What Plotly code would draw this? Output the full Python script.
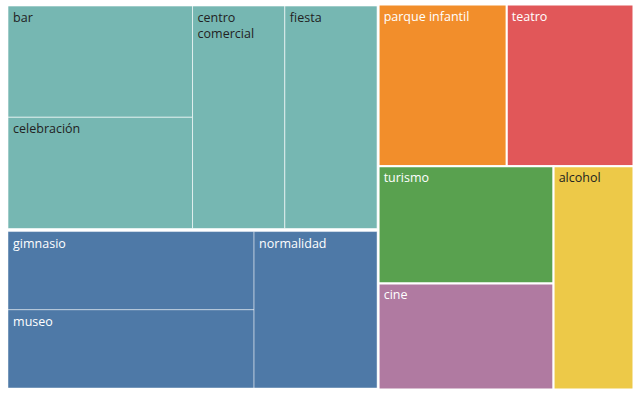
import plotly.graph_objects as go

# Data
teal_items = ["bar", "celebración", "centro comercial", "fiesta"]
blue_items = ["gimnasio", "museo", "normalidad"]
single_items = ["parque infantil", "teatro", "turismo", "cine", "alcohol"]
teal_values = [87, 87, 87, 87]
blue_values = [82, 82, 82]
single_values = [86, 85, 85, 77, 74]

TEAL, BLUE = "#76b7b2", "#4e79a7"
single_colors = ["#f28e2b", "#e15759", "#59a14f", "#b07aa1", "#edc948"]
single_text_colors = ["white", "white", "white", "white", "#222222"]

ids, labels, parents, values, colors, tcolors, texts, lw, lc = [], [], [], [], [], [], [], [], []

def add(i, lab, par, val, col, tcol, txt, w, c):
    ids.append(i); labels.append(lab); parents.append(par); values.append(val)
    colors.append(col); tcolors.append(tcol); texts.append(txt); lw.append(w); lc.append(c)

def disp(name):
    pre = "\u2009"
    return pre + name.replace(" ", "<br>" + pre) if name == "centro comercial" else pre + name

add("grp_teal", "grp_teal", "", 0, "white", "white", " ", 0, "white")
for name, v in zip(teal_items, teal_values):
    add(name, name, "grp_teal", v, TEAL, "#222222", disp(name), 1, "rgba(255,255,255,0.6)")
add("grp_blue", "grp_blue", "", 0, "white", "white", " ", 0, "white")
for name, v in zip(blue_items, blue_values):
    add(name, name, "grp_blue", v, BLUE, "white", disp(name), 1, "rgba(255,255,255,0.45)")
for name, v, col, tc in zip(single_items, single_values, single_colors, single_text_colors):
    add(name, name, "", v, col, tc, disp(name), 2, "white")

fig = go.Figure(go.Treemap(
    ids=ids, labels=labels, parents=parents, values=values,
    text=texts, texttemplate="%{text}", textposition="top left",
    textfont=dict(family="Open Sans, Noto Sans, sans-serif", size=12.5, color=tcolors),
    marker=dict(colors=colors, line=dict(width=lw, color=lc),
                pad=dict(t=1.5, l=1.5, r=1.5, b=1.5)),
    tiling=dict(squarifyratio=1.618034, pad=0),
    pathbar=dict(visible=False),
    sort=True,
    hoverinfo="label",
    root=dict(color="white"),
))
fig.update_layout(
    width=640, height=396,
    margin=dict(l=5, r=5, t=3, b=5),
    paper_bgcolor="white",
)
fig.write_html("out.html", config={"displayModeBar": False},
               post_script="document.body.style.margin='0';")
